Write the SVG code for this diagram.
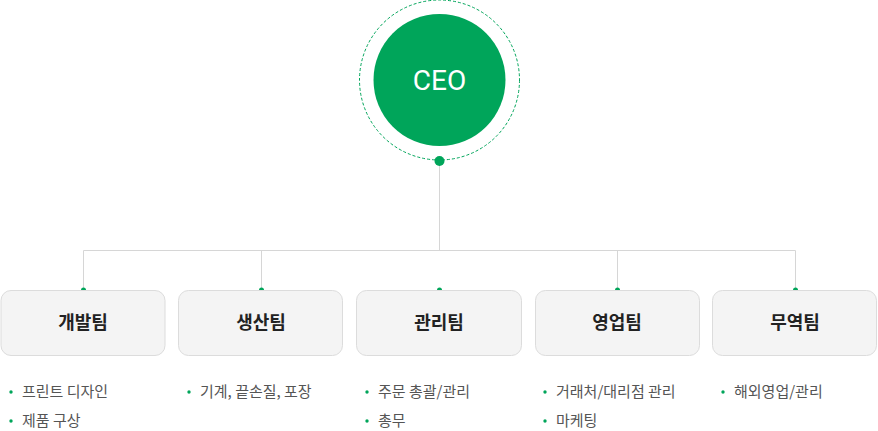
<svg xmlns="http://www.w3.org/2000/svg" width="878" height="431" viewBox="0 0 878 431">
<style>
.box{fill:#f4f4f4;stroke:#dcdcdc;stroke-width:1}
.lbl{font-family:"Noto Sans CJK KR","Noto Sans",sans-serif;font-size:18px;font-weight:700;fill:#222;text-anchor:middle}
.it{font-family:"Noto Sans CJK KR","Noto Sans",sans-serif;font-size:15px;fill:#555}
.b{fill:#00a55a}
.ln{stroke:#d6d6d6;stroke-width:1;fill:none}
</style>
<rect width="878" height="431" fill="#fff"/>
<g id="connectors">
<path class="ln" d="M439.5 160V250.5M83.5 250.5H795.5M83.5 250.5V290M261.5 250.5V290M617.5 250.5V290M795.5 250.5V290"/>
<circle class="b" cx="83.5" cy="290" r="2.5"/><circle class="b" cx="261.5" cy="290" r="2.5"/><circle class="b" cx="439.5" cy="290" r="2.5"/><circle class="b" cx="617.5" cy="290" r="2.5"/><circle class="b" cx="795.5" cy="290" r="2.5"/>
</g>
<g id="ceo">
<circle cx="439.5" cy="80" r="80" fill="none" stroke="#00a55a" stroke-width="1" stroke-dasharray="3,2"/>
<circle cx="439.5" cy="80" r="66" fill="#00a55a"/>
<text x="439.5" y="90" font-family="Roboto,'Noto Sans',sans-serif" font-size="28" fill="#fff" text-anchor="middle">CEO</text>
<circle cx="439.5" cy="161" r="5" fill="#00a55a"/>
</g>
<g id="n1"><rect class="box" x="1" y="290.5" width="164" height="65" rx="10"/><text class="lbl" x="83" y="329">개발팀</text>
<circle class="b" cx="11" cy="392" r="1.7"/><text class="it" x="22" y="397">프린트 디자인</text>
<circle class="b" cx="11" cy="421" r="1.7"/><text class="it" x="22" y="426">제품 구상</text></g>
<g id="n2"><rect class="box" x="178.5" y="290.5" width="164" height="65" rx="10"/><text class="lbl" x="261" y="329">생산팀</text>
<circle class="b" cx="189" cy="392" r="1.7"/><text class="it" x="200" y="397">기계, 끝손질, 포장</text></g>
<g id="n3"><rect class="box" x="356.5" y="290.5" width="165" height="65" rx="10"/><text class="lbl" x="439" y="329">관리팀</text>
<circle class="b" cx="367" cy="392" r="1.7"/><text class="it" x="378" y="397">주문 총괄/관리</text>
<circle class="b" cx="367" cy="421" r="1.7"/><text class="it" x="378" y="426">총무</text></g>
<g id="n4"><rect class="box" x="535.5" y="290.5" width="164" height="65" rx="10"/><text class="lbl" x="617" y="329">영업팀</text>
<circle class="b" cx="545" cy="392" r="1.7"/><text class="it" x="556" y="397">거래처/대리점 관리</text>
<circle class="b" cx="545" cy="421" r="1.7"/><text class="it" x="556" y="426">마케팅</text></g>
<g id="n5"><rect class="box" x="712.5" y="290.5" width="164" height="65" rx="10"/><text class="lbl" x="795" y="329">무역팀</text>
<circle class="b" cx="723" cy="392" r="1.7"/><text class="it" x="734" y="397">해외영업/관리</text></g>
</svg>
